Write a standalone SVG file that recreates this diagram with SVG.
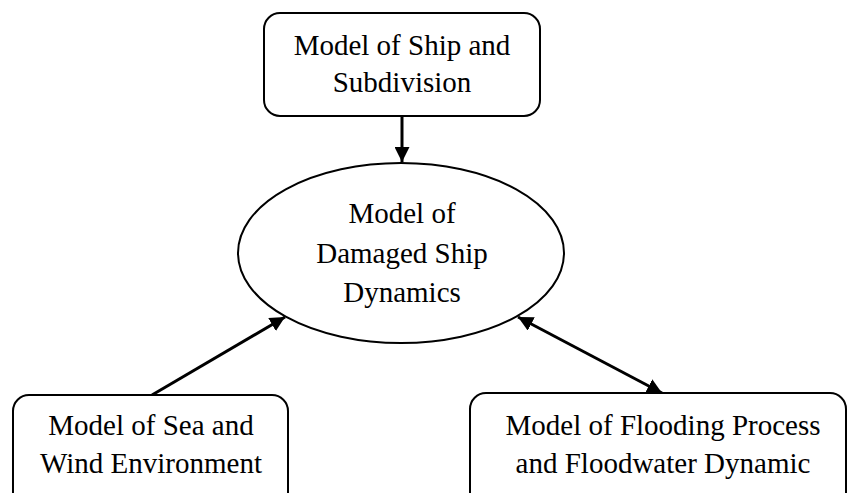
<svg xmlns="http://www.w3.org/2000/svg" width="847" height="493" viewBox="0 0 847 493">
  <style>
    .box { fill: #fff; stroke: #000; stroke-width: 2; }
    .lbl { font-family: "Liberation Serif", "Times New Roman", serif; font-size: 29px; fill: #000; text-anchor: middle; }
    .edge { stroke: #000; stroke-width: 3; fill: none; }
  </style>
  <defs>
    <marker id="head" viewBox="0 0 10 10" refX="10" refY="5" markerWidth="5" markerHeight="5" orient="auto-start-reverse" markerUnits="strokeWidth">
      <path d="M0,0 L10,5 L0,10 Z" fill="#000"/>
    </marker>
  </defs>
  <rect width="847" height="493" fill="#fff"/>

  <g id="connectors">
    <line class="edge" x1="402" y1="117" x2="402" y2="162" marker-end="url(#head)"/>
    <line class="edge" x1="152" y1="395" x2="285" y2="317" marker-end="url(#head)"/>
    <line class="edge" x1="518" y1="317" x2="662" y2="393" marker-start="url(#head)" marker-end="url(#head)"/>
  </g>

  <g id="ship-subdivision">
    <rect class="box" x="264" y="13" width="276" height="103" rx="16"/>
    <text class="lbl" x="402" y="55">Model of Ship and</text>
    <text class="lbl" x="402" y="92">Subdivision</text>
  </g>

  <g id="damaged-ship-dynamics">
    <ellipse class="box" cx="401" cy="253" rx="163" ry="90"/>
    <text class="lbl" x="402" y="223">Model of</text>
    <text class="lbl" x="402" y="263">Damaged Ship</text>
    <text class="lbl" x="402" y="302">Dynamics</text>
  </g>

  <g id="sea-wind">
    <rect class="box" x="13" y="395" width="275" height="115" rx="16"/>
    <text class="lbl" x="151" y="435">Model of Sea and</text>
    <text class="lbl" x="151" y="473">Wind Environment</text>
  </g>

  <g id="flooding">
    <rect class="box" x="470" y="393" width="376" height="117" rx="16"/>
    <text class="lbl" x="663" y="435">Model of Flooding Process</text>
    <text class="lbl" x="663" y="473">and Floodwater Dynamic</text>
  </g>
</svg>
